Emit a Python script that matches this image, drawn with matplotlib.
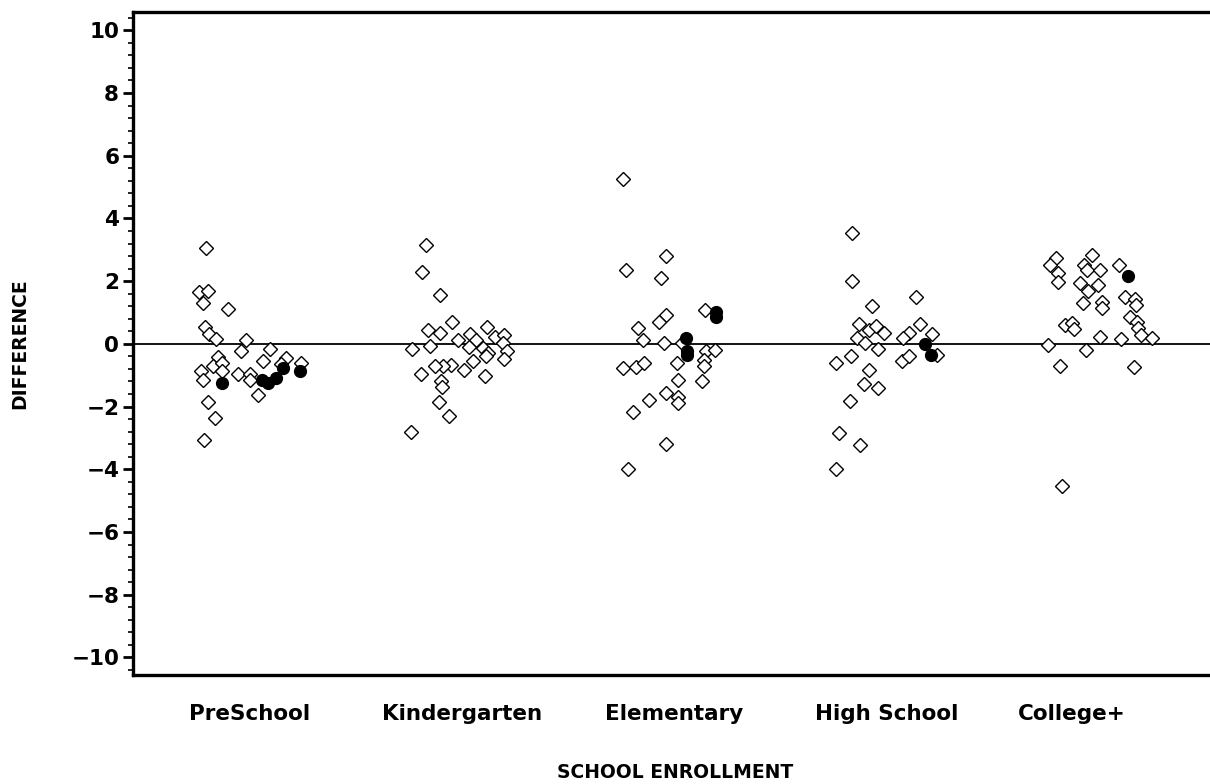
import matplotlib
matplotlib.use("Agg")
import matplotlib.pyplot as plt
from matplotlib.ticker import MultipleLocator

categories = ["PreSchool", "Kindergarten", "Elementary", "High School", "College+"]
label_pos = [1.0, 2.0, 3.0, 4.0, 4.87]

# open diamonds (jittered x, difference)
pre_x = [0.793, 0.762, 0.804, 0.780, 0.898, 0.788, 0.809, 0.840, 0.984, 0.956, 1.097, 0.851, 0.827,
         0.768, 0.780, 0.867, 0.945, 1.000, 1.000, 1.060, 1.172, 1.243, 1.039, 0.804, 0.835, 0.784,
         0.868, 1.146]
pre_y = [3.05, 1.64, 1.67, 1.30, 1.11, 0.53, 0.32, 0.15, 0.13, -0.22, -0.17, -0.42, -0.72,
         -0.88, -1.15, -0.60, -0.96, -0.96, -1.15, -0.56, -0.46, -0.60, -1.63, -1.84, -2.37, -3.06,
         -0.85, -0.65]
kin_x = [1.831, 1.810, 1.896, 1.951, 1.838, 1.893, 2.115, 1.765, 1.846, 1.979, 2.037, 2.066, 2.031,
         2.156, 2.199, 2.191, 2.097, 2.120, 2.113, 2.209, 2.199, 2.050, 2.006, 1.945, 1.909, 1.870,
         1.807, 1.901, 1.906, 2.108, 1.890, 1.940, 1.760]
kin_y = [3.16, 2.28, 1.55, 0.71, 0.45, 0.34, 0.53, -0.17, -0.06, 0.13, 0.32, 0.13, -0.09,
         0.21, 0.29, 0.02, -0.14, -0.30, -0.40, -0.24, -0.49, -0.56, -0.83, -0.67, -0.72, -0.72,
         -0.96, -1.20, -1.36, -1.04, -1.84, -2.30, -2.80]
ele_x = [2.758, 2.959, 2.771, 2.938, 3.143, 2.959, 2.927, 2.828, 2.849, 2.951, 3.037, 3.147, 3.190,
         3.139, 3.139, 2.758, 2.818, 2.857, 3.013, 3.018, 3.131, 2.959, 2.880, 3.018, 3.018, 2.805,
         2.961, 2.781]
ele_y = [5.25, 2.79, 2.34, 2.09, 1.08, 0.93, 0.71, 0.50, 0.13, 0.04, 0.04, -0.24, -0.19,
         -0.51, -0.72, -0.78, -0.74, -0.62, -0.62, -1.15, -1.20, -1.57, -1.79, -1.68, -1.87, -2.16,
         -3.19, -3.99]
hig_x = [3.836, 3.836, 4.137, 3.930, 3.867, 3.914, 3.949, 3.985, 4.157, 4.102, 4.212, 4.074, 3.859,
         3.899, 4.235, 3.958, 3.760, 3.833, 4.071, 4.102, 3.917, 3.891, 3.958, 3.828, 3.773, 3.875,
         3.758]
hig_y = [3.53, 2.02, 1.48, 1.21, 0.64, 0.45, 0.57, 0.36, 0.64, 0.34, 0.32, 0.18, 0.18,
         0.02, -0.35, -0.17, -0.62, -0.40, -0.56, -0.40, -0.83, -1.28, -1.41, -1.81, -2.85, -3.22,
         -4.00]
col_x = [4.795, 4.768, 4.807, 4.804, 4.967, 4.929, 4.940, 5.003, 5.093, 4.909, 4.995, 4.948, 4.925,
         5.014, 5.014, 5.121, 5.168, 5.175, 5.144, 5.180, 5.183, 5.196, 5.249, 4.839, 4.873, 4.883,
         5.003, 5.102, 4.757, 4.936, 4.815, 5.164, 4.823]
col_y = [2.73, 2.52, 2.27, 1.96, 2.84, 2.52, 2.36, 2.34, 2.52, 1.94, 1.88, 1.67, 1.30,
         1.35, 1.14, 1.51, 1.43, 1.24, 0.85, 0.71, 0.50, 0.29, 0.18, 0.61, 0.68, 0.47,
         0.23, 0.15, -0.03, -0.19, -0.70, -0.74, -4.53]

# filled dots
dot_x = [0.868, 1.055, 1.086, 1.125, 1.157, 1.235,
         3.194, 3.196, 3.053, 3.060, 3.060,
         4.181, 4.209,
         5.133]
dot_y = [-1.25, -1.15, -1.26, -1.10, -0.78, -0.88,
         1.03, 0.85, 0.18, -0.24, -0.35,
         0.00, -0.35,
         2.15]

fig = plt.figure(figsize=(12.1, 7.84), dpi=100)
ax = fig.add_axes([0.110, 0.139, 0.895, 0.846])

ax.axhline(0, color="black", lw=1.3, zorder=1)

for xs, ys in [(pre_x, pre_y), (kin_x, kin_y), (ele_x, ele_y), (hig_x, hig_y), (col_x, col_y)]:
    ax.plot(xs, ys, ls="none", marker="D", ms=7, mfc="white", mec="black", mew=1.0, zorder=2)
ax.plot(dot_x, dot_y, ls="none", marker="o", ms=8.5, mfc="black", mec="black", zorder=3)

ax.set_xlim(0.45, 5.55)
ax.set_ylim(-10.56, 10.59)

ax.yaxis.set_major_locator(MultipleLocator(2))
ax.yaxis.set_minor_locator(MultipleLocator(0.4))
ax.tick_params(axis="y", which="major", length=7, width=2, labelsize=15.5, pad=3)
ax.tick_params(axis="y", which="minor", length=3.5, width=1.2)
for lab in ax.get_yticklabels():
    lab.set_fontweight("heavy")

ax.set_xticks(label_pos)
ax.set_xticklabels(categories, fontsize=15.5, fontweight="bold")
ax.tick_params(axis="x", length=0, pad=21)

for side in ["left", "top", "bottom"]:
    ax.spines[side].set_linewidth(2.4)
ax.spines["right"].set_visible(False)

fig.text(0.0165, 0.5615, "DIFFERENCE", rotation=90, ha="center", va="center",
         fontsize=13.5, fontweight="bold")
fig.text(0.558, 0.015, "SCHOOL ENROLLMENT", ha="center", va="center",
         fontsize=13.5, fontweight="bold")

fig.savefig("out.png", dpi=100)
